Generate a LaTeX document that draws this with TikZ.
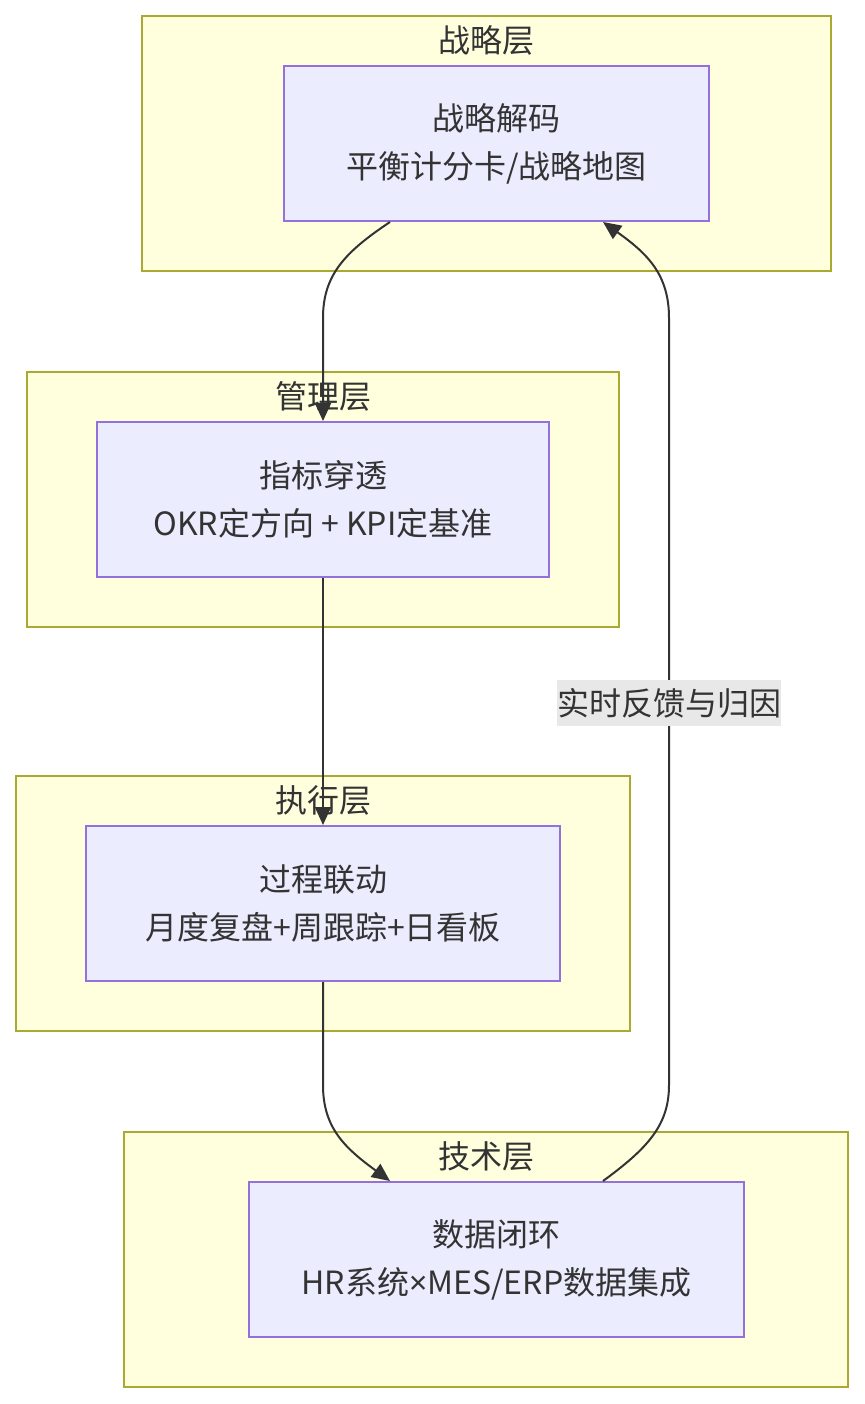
\documentclass[tikz,border=0pt]{standalone}
\usepackage{fontspec}
\setmainfont{Noto Sans CJK SC}
\newfontfamily\latinfont{Noto Sans}
\usetikzlibrary{arrows.meta,calc}
\definecolor{clfill}{HTML}{FFFFDE}
\definecolor{cldraw}{HTML}{AAAA33}
\definecolor{ndfill}{HTML}{ECECFF}
\definecolor{nddraw}{HTML}{9370DB}
\definecolor{txt}{HTML}{333333}
\definecolor{lblbg}{HTML}{E8E8E8}
\tikzset{
  cluster/.style={draw=cldraw, fill=clfill, line width=1pt, minimum height=127.5pt, inner sep=0pt},
  proc/.style={draw=nddraw, fill=ndfill, line width=1pt, minimum height=77.5pt, align=center, text=txt, inner sep=0pt},
  ctitle/.style={text=txt, inner sep=0pt},
  edge/.style={draw=txt, line width=1pt, -{Triangle[length=9pt,width=8pt]}},
  lbl/.style={fill=lblbg, text=txt, inner sep=0pt, minimum height=23pt}
}
\begin{document}
\begin{tikzpicture}[x=0.5pt,y=-0.5pt,font=\fontsize{16pt}{24pt}\selectfont]
\useasboundingbox[fill=white] (0,0) rectangle (864,1404);
% clusters
\node[cluster, minimum width=344.5pt] (c1) at (486.5,143.5) {};
\node[ctitle] (t1) at (486.5,40) {战略层};
\node[cluster, minimum width=296pt] (c2) at (323,499.5) {};
\node[ctitle] (t2) at (323,396) {管理层};
\node[cluster, minimum width=307pt] (c3) at (323,903.5) {};
\node[ctitle] (t3) at (323,800) {执行层};
\node[cluster, minimum width=362pt] (c4) at (486,1259.5) {};
\node[ctitle] (t4) at (486,1156) {技术层};
% nodes
\node[proc, minimum width=212.5pt] (n1) at (496.5,143.5) {战略解码\\平衡计分卡/战略地图};
\node[proc, minimum width=226pt] (n2) at (323,499.5) {指标穿透\\OKR定方向 + KPI定基准};
\node[proc, minimum width=237pt] (n3) at (323,903.5) {过程联动\\月度复盘+周跟踪+日看板};
\node[proc, minimum width=247.5pt] (n4) at (496.5,1259.5) {数据闭环\\HR系统{\latinfont ×}MES/ERP数据集成};
% edges
\draw[edge] ($(n1.south)+(-106.5,0)$) .. controls (345,252) and (323,275) .. (323,318) -- (n2.north);
\draw[edge] (n2.south) -- (n3.north);
\draw[edge] (n3.south) -- (323,1085) .. controls (323,1128) and (345,1148) .. ($(n4.north)+(-106.5,0)$);
\draw[edge] ($(n4.north)+(106.5,0)$) .. controls (648,1148) and (669,1125) .. (669,1085) -- (669,318) .. controls (669,275) and (648,254) .. ($(n1.south)+(106.5,0)$);
\node[lbl] (l1) at (669,703) {实时反馈与归因};
\end{tikzpicture}
\end{document}
